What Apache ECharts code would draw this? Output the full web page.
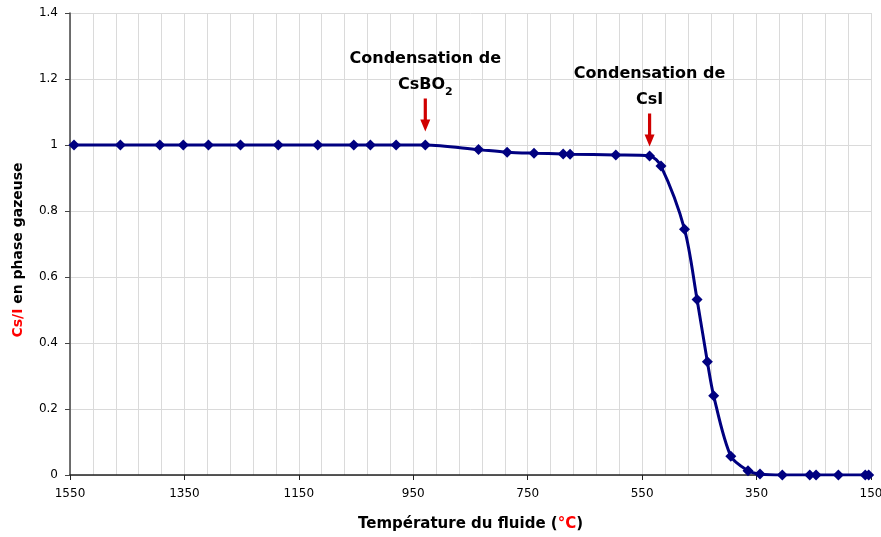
<!DOCTYPE html>
<html>
<head>
<meta charset="utf-8">
<script src="https://cdn.jsdelivr.net/npm/echarts@6/dist/echarts.min.js"></script>
<style>
  html, body { margin: 0; padding: 0; background: #fff; }
  #chart { width: 881px; height: 537px; }
</style>
</head>
<body>
<div id="chart"></div>
<script>
// Fluid temperature (°C) and the gaseous Cs/I ratio at each computed point
var temperatures = [1543, 1462, 1393, 1352, 1308, 1252, 1186, 1117, 1054, 1025, 980, 929,
                    836, 786, 739, 688, 676, 596, 537, 517, 476, 454, 436, 425, 395, 365,
                    344, 305, 257, 246, 207, 160, 154];
var csiRatio = [1, 1, 1, 1, 1, 1, 1, 1, 1, 1, 1, 1,
                0.986, 0.978, 0.975, 0.973, 0.972, 0.970, 0.967, 0.936, 0.745, 0.532, 0.343, 0.240, 0.057, 0.013,
                0.003, 0, 0, 0, 0, 0, 0];

// Axis range and tick labels
var tempRange = [150, 1550];
var tempTicks = [1550, 1350, 1150, 950, 750, 550, 350, 150];
var ratioTicks = [0, 0.2, 0.4, 0.6, 0.8, 1, 1.2, 1.4];

// Condensation onsets: index of the point each arrow marks
var onsetIndex = [11, 18];
var onsetText = ['Condensation de\nCsBO{sub|2}', 'Condensation de\nCsI'];

var FONT = 'DejaVu Sans';
var NAVY = '#000080';
var GRID = '#dadada';

var arrowPath = 'path://M-1.6,0 L1.6,0 L1.6,21 L5,21 L0,33 L-5,21 L-1.6,21 Z';

var points = temperatures.map(function (t, i) { return [t, csiRatio[i]]; });

var chart = echarts.init(document.getElementById('chart'), null, { renderer: 'canvas' });

chart.setOption({
  backgroundColor: '#fff',
  animation: false,
  grid: { left: 70, right: 10, top: 13, bottom: 62, containLabel: false, outerBoundsMode: 'none' },
  xAxis: {
    type: 'value',
    inverse: true,
    min: tempRange[0],
    max: tempRange[1],
    interval: 200,
    name: 'Température du fluide ({red|°C})',
    nameLocation: 'middle',
    nameGap: 42,
    nameTextStyle: {
      fontFamily: FONT, fontWeight: 'bold', fontSize: 15, color: '#000',
      rich: { red: { fontFamily: FONT, fontWeight: 'bold', fontSize: 15, color: '#ff0000' } }
    },
    axisLine: { show: true, lineStyle: { color: '#222', width: 1.5 } },
    axisTick: { show: true, inside: false, length: 5, lineStyle: { color: '#222' } },
    axisLabel: {
      fontFamily: FONT, fontSize: 12, color: '#000', margin: 13,
      formatter: function (v) { return tempTicks.indexOf(v) >= 0 ? String(v) : ''; }
    },
    splitLine: { show: true, lineStyle: { color: GRID, width: 1 } },
    minorTick: { show: false, splitNumber: 5 },
    minorSplitLine: { show: true, lineStyle: { color: GRID, width: 1 } }
  },
  yAxis: {
    type: 'value',
    min: ratioTicks[0],
    max: ratioTicks[ratioTicks.length - 1],
    interval: 0.2,
    name: '{red|Cs/I} en phase gazeuse',
    nameLocation: 'middle',
    nameRotate: 90,
    nameGap: 45,
    nameTextStyle: {
      fontFamily: FONT, fontWeight: 'bold', fontSize: 14, color: '#000',
      padding: [0, 12, 0, 0],
      rich: { red: { fontFamily: FONT, fontWeight: 'bold', fontSize: 14, color: '#ff0000' } }
    },
    axisLine: { show: true, lineStyle: { color: '#444', width: 1.5 } },
    axisTick: { show: true, inside: false, length: 5, lineStyle: { color: '#444' } },
    axisLabel: {
      fontFamily: FONT, fontSize: 12, color: '#000', margin: 12,
      formatter: function (v) { return String(Math.round(v * 10) / 10); }
    },
    splitLine: { show: true, lineStyle: { color: GRID, width: 1 } }
  },
  series: [{
    type: 'line',
    data: points,
    smooth: 0.3,
    symbol: 'diamond',
    symbolSize: 11,
    showAllSymbol: true,
    lineStyle: { color: NAVY, width: 3 },
    itemStyle: { color: NAVY, borderWidth: 0 },
    z: 3,
    markPoint: {
      symbol: arrowPath,
      symbolSize: [10, 33],
      symbolKeepAspect: false,
      itemStyle: { color: '#d00000' },
      label: {
        show: true,
        position: 'top',
        distance: 1,
        fontFamily: FONT,
        fontWeight: 'bold',
        fontSize: 16,
        lineHeight: 26,
        color: '#000',
        align: 'center',
        rich: {
          sub: { fontFamily: FONT, fontWeight: 'bold', fontSize: 11, lineHeight: 14, verticalAlign: 'bottom', color: '#000' }
        }
      },
      data: onsetIndex.map(function (idx, k) {
        return {
          coord: points[idx],
          symbolOffset: [0, k === 0 ? -30 : -26],
          label: { formatter: onsetText[k] }
        };
      })
    }
  }]
});
</script>
</body>
</html>
